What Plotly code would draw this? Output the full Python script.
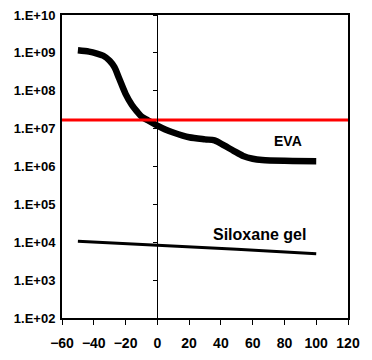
import plotly.graph_objects as go

# Data
eva_x = [-50, -43, -38, -34, -30, -27, -24, -20, -16, -13, -10, -6, 0, 5, 10, 20, 30, 36, 42, 48, 54, 60, 66, 80, 100]
eva_y = [1.17e9, 1.08e9, 9.6e8, 8.4e8, 6.2e8, 4.2e8, 2.1e8, 8.3e7, 4.2e7, 2.9e7, 2.1e7, 1.66e7, 1.2e7,
         9.5e6, 7.9e6, 5.9e6, 5.2e6, 4.9e6, 3.6e6, 2.6e6, 1.9e6, 1.6e6, 1.48e6, 1.41e6, 1.38e6]
sil_x = [-50, 0, 50, 100]
sil_y = [1.07e4, 8.5e3, 6.5e3, 5.0e3]
red_level = 1.7e7
x_limits = [-60, 120]
y_tick_vals = [1e2, 1e3, 1e4, 1e5, 1e6, 1e7, 1e8, 1e9, 1e10]
y_tick_text = ["1.E+02", "1.E+03", "1.E+04", "1.E+05", "1.E+06", "1.E+07", "1.E+08", "1.E+09", "1.E+10"]

FONT = "Liberation Sans, Arial, sans-serif"

fig = go.Figure()
fig.add_trace(go.Scatter(x=eva_x, y=eva_y, mode="lines", line=dict(color="black", width=6.5, shape="spline", smoothing=0.8),
                         showlegend=False, hoverinfo="skip"))
fig.add_trace(go.Scatter(x=sil_x, y=sil_y, mode="lines", line=dict(color="black", width=3),
                         showlegend=False, hoverinfo="skip", yaxis="y2"))
fig.add_trace(go.Scatter(x=x_limits, y=[red_level, red_level], mode="lines",
                         line=dict(color="#ff0000", width=3), showlegend=False, hoverinfo="skip"))

zero_pos = (0 - x_limits[0]) / (x_limits[1] - x_limits[0])

# The page body has an 8px default margin, so the figure is sized to fit the window
fig.update_layout(
    width=364, height=352,
    margin=dict(l=54, r=24, t=7, b=42),
    paper_bgcolor="white", plot_bgcolor="white",
    font=dict(family=FONT, size=14, color="black"),
    xaxis=dict(range=x_limits, dtick=20, tick0=-60, showgrid=False, zeroline=False,
               showline=True, linecolor="black", linewidth=2, mirror=True, automargin=False,
               ticks="outside", ticklen=5, tickwidth=1, tickcolor="black", ticklabelstandoff=6,
               ticklabeloverflow="allow",
               tickfont=dict(family=FONT, size=14, color="black", weight="bold")),
    yaxis=dict(type="log", range=[2, 10], tickvals=y_tick_vals, ticktext=y_tick_text,
               showgrid=False, zeroline=False, showline=True, linecolor="black", linewidth=2,
               mirror=True, ticks="", automargin=False, ticklabelstandoff=2,
               ticklabeloverflow="allow",
               tickfont=dict(family=FONT, size=13, color="black", weight="bold")),
    yaxis2=dict(type="log", range=[2, 10], tickvals=y_tick_vals, overlaying="y", anchor="free",
                position=zero_pos, side="left", showgrid=False, zeroline=False, automargin=False,
                showline=True, linecolor="black", linewidth=1, ticks="outside", ticklen=4,
                tickwidth=1, tickcolor="black", showticklabels=False),
)

fig.add_annotation(x=82, y=6.68, text="<b>EVA</b>", showarrow=False,
                   font=dict(family=FONT, size=14, color="black"))
fig.add_annotation(x=64.5, y=4.2, text="<b>Siloxane gel</b>", showarrow=False,
                   font=dict(family=FONT, size=16, color="black"))

fig.write_html("out.html")
